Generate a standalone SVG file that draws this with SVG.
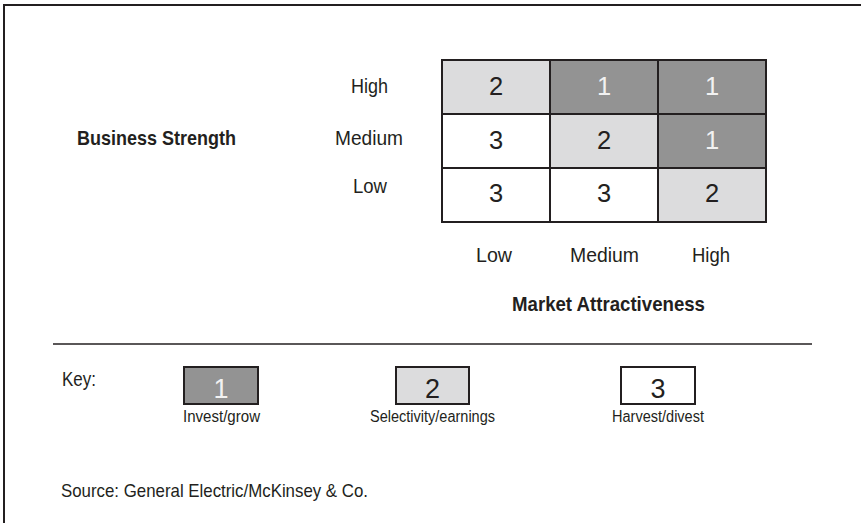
<svg xmlns="http://www.w3.org/2000/svg" width="861" height="523" viewBox="0 0 861 523">
<style>
  .t { font-family: "Liberation Sans", Arial, sans-serif; fill: #231f20; }
  .lbl { font-size: 20.5px; }
  .bold { font-size: 21px; font-weight: bold; }
  .dig { font-size: 25.5px; text-anchor: middle; }
  .kdig { font-size: 27px; text-anchor: middle; }
  .cap { font-size: 16px; }
  .src { font-size: 19px; }
  .cell { stroke: #231f20; stroke-width: 2; }
  .dark { fill: #939393; }
  .light { fill: #dcdcdd; }
  .white { fill: #ffffff; }
  .wd { fill: #f2f2f2; }
  .frame { stroke: #231f20; stroke-width: 2; fill: none; }
</style>
<rect x="0" y="0" width="861" height="523" fill="#ffffff"/>
<g id="frame">
  <line class="frame" x1="3" y1="5" x2="861" y2="5"/>
  <line class="frame" x1="4" y1="4" x2="4" y2="523"/>
</g>
<g id="axis-business-strength">
  <text class="t bold" x="77" y="145" textLength="159" lengthAdjust="spacingAndGlyphs">Business Strength</text>
  <text class="t lbl" x="351" y="93" textLength="37" lengthAdjust="spacingAndGlyphs">High</text>
  <text class="t lbl" x="335" y="145" textLength="68" lengthAdjust="spacingAndGlyphs">Medium</text>
  <text class="t lbl" x="353" y="193" textLength="34" lengthAdjust="spacingAndGlyphs">Low</text>
</g>
<g id="axis-market-attractiveness">
  <text class="t lbl" x="476" y="262" textLength="36" lengthAdjust="spacingAndGlyphs">Low</text>
  <text class="t lbl" x="570" y="262" textLength="69" lengthAdjust="spacingAndGlyphs">Medium</text>
  <text class="t lbl" x="692" y="262" textLength="38" lengthAdjust="spacingAndGlyphs">High</text>
  <text class="t bold" x="512" y="311" textLength="193" lengthAdjust="spacingAndGlyphs">Market Attractiveness</text>
</g>
<g id="grid">
  <g id="cell-high-low"><rect class="cell light" x="442" y="60" width="108" height="54"/><text class="t dig" x="496" y="95">2</text></g>
  <g id="cell-high-medium"><rect class="cell dark" x="550" y="60" width="108" height="54"/><text class="t dig wd" x="604" y="95">1</text></g>
  <g id="cell-high-high"><rect class="cell dark" x="658" y="60" width="108" height="54"/><text class="t dig wd" x="712" y="95">1</text></g>
  <g id="cell-medium-low"><rect class="cell white" x="442" y="114" width="108" height="54"/><text class="t dig" x="496" y="149">3</text></g>
  <g id="cell-medium-medium"><rect class="cell light" x="550" y="114" width="108" height="54"/><text class="t dig" x="604" y="149">2</text></g>
  <g id="cell-medium-high"><rect class="cell dark" x="658" y="114" width="108" height="54"/><text class="t dig wd" x="712" y="149">1</text></g>
  <g id="cell-low-low"><rect class="cell white" x="442" y="168" width="108" height="54"/><text class="t dig" x="496" y="202">3</text></g>
  <g id="cell-low-medium"><rect class="cell white" x="550" y="168" width="108" height="54"/><text class="t dig" x="604" y="202">3</text></g>
  <g id="cell-low-high"><rect class="cell light" x="658" y="168" width="108" height="54"/><text class="t dig" x="712" y="202">2</text></g>
</g>
<line x1="53" y1="344" x2="812" y2="344" stroke="#231f20" stroke-width="1.5"/>
<g id="key">
  <text class="t lbl" x="62" y="386" textLength="34" lengthAdjust="spacingAndGlyphs">Key:</text>
  <g id="key-1">
    <rect class="cell dark" x="184" y="367" width="74" height="37" stroke-width="1.5"/>
    <text class="t kdig wd" x="221" y="398">1</text>
    <text class="t cap" x="183" y="422" textLength="77" lengthAdjust="spacingAndGlyphs">Invest/grow</text>
  </g>
  <g id="key-2">
    <rect class="cell light" x="396" y="367" width="73" height="37" stroke-width="1.5"/>
    <text class="t kdig" x="432.5" y="398">2</text>
    <text class="t cap" x="370" y="422" textLength="125" lengthAdjust="spacingAndGlyphs">Selectivity/earnings</text>
  </g>
  <g id="key-3">
    <rect class="cell white" x="621" y="367" width="74" height="37" stroke-width="1.5"/>
    <text class="t kdig" x="658" y="398">3</text>
    <text class="t cap" x="612" y="422" textLength="92" lengthAdjust="spacingAndGlyphs">Harvest/divest</text>
  </g>
</g>
<text class="t src" x="61" y="497" textLength="307" lengthAdjust="spacingAndGlyphs">Source: General Electric/McKinsey &amp; Co.</text>
</svg>
